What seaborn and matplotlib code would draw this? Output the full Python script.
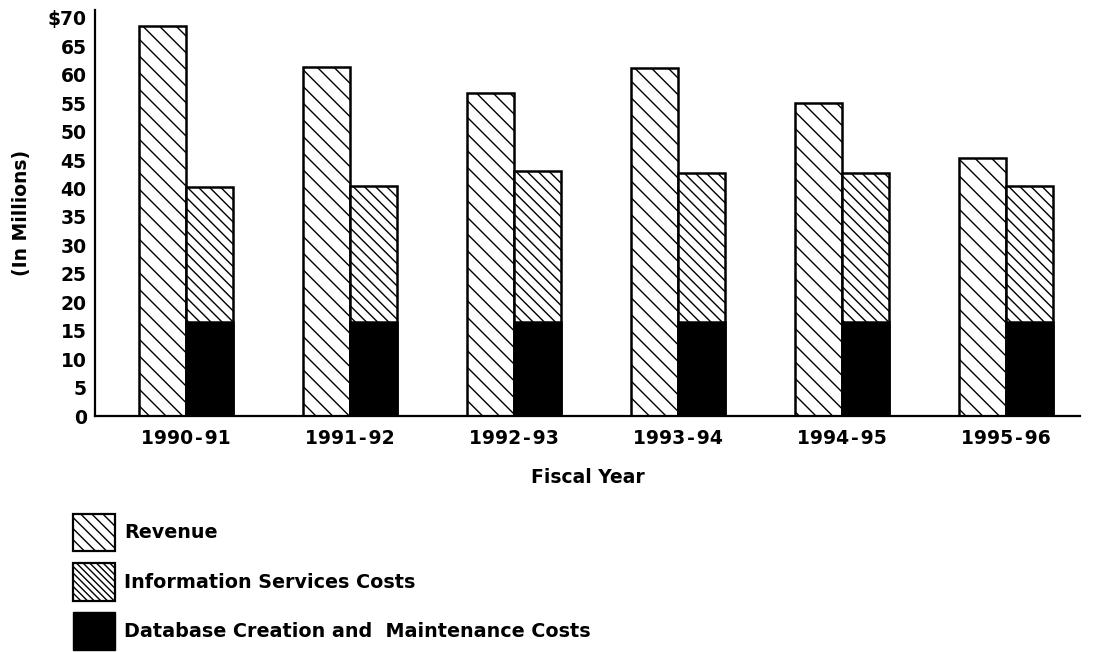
import pandas as pd
import seaborn as sns
import matplotlib.pyplot as plt
from matplotlib.patches import Patch

# Data (in millions of dollars)
years = ["1990\u200a-\u200a91", "1991\u200a-\u200a92", "1992\u200a-\u200a93",
         "1993\u200a-\u200a94", "1994\u200a-\u200a95", "1995\u200a-\u200a96"]
revenue = [68.6, 61.3, 56.8, 61.2, 55.0, 45.3]
info_costs = [40.3, 40.4, 43.1, 42.8, 42.7, 40.4]
db_costs = [16.6, 16.6, 16.6, 16.6, 16.6, 16.6]
y_ticks = [0, 5, 10, 15, 20, 25, 30, 35, 40, 45, 50, 55, 60, 65, 70]
y_tick_labels = ["0", "5", "10", "15", "20", "25", "30", "35", "40", "45",
                 "50", "55", "60", "65", "$70"]

series_names = ["Revenue", "Information Services Costs"]

sns.set_style("white")
plt.rcParams["font.family"] = ["DejaVu Sans"]
plt.rcParams["font.weight"] = "bold"
plt.rcParams["hatch.linewidth"] = 1.0
plt.rcParams["hatch.color"] = "black"
for key in ["text.color", "axes.labelcolor", "xtick.color", "ytick.color"]:
    plt.rcParams[key] = "black"

# Long table for the dodged revenue / info bars
df = pd.DataFrame({
    "year": years * 2,
    "series": [series_names[0]] * len(years) + [series_names[1]] * len(years),
    "value": revenue + info_costs,
})
# DB costs sit at the bottom of the info bars
df_db = pd.DataFrame({"year": years, "series": [series_names[1]] * len(years), "value": db_costs})

fig = plt.figure(figsize=(10.97, 6.52), dpi=100)
ax = fig.add_axes([95 / 1097, 1 - 416 / 652, (1080 - 95) / 1097, (416 - 10) / 652])

sns.barplot(data=df, x="year", y="value", hue="series", hue_order=series_names,
            order=years, width=0.57, palette=["white", "white"], dodge=True,
            edgecolor="black", linewidth=1.8, errorbar=None, legend=False, ax=ax)

hatches = ["\\\\", "\\\\\\"]
for i, bar in enumerate(ax.patches):
    bar.set_hatch(hatches[i // len(years)])

sns.barplot(data=df_db, x="year", y="value", hue="series", hue_order=series_names,
            order=years, width=0.57, palette=["black", "black"], dodge=True,
            edgecolor="black", linewidth=1.8, errorbar=None, legend=False, ax=ax)

ax.set_ylim(0, 71.4)
ax.set_xlim(-0.555, 5.45)
ax.set_yticks(y_ticks)
ax.set_yticklabels(y_tick_labels)
ax.tick_params(axis="y", length=0, labelsize=13.5, pad=6)
ax.tick_params(axis="x", length=0, labelsize=13.5, pad=9)
for lbl in ax.get_xticklabels() + ax.get_yticklabels():
    lbl.set_fontweight("bold")

ax.set_xlabel("Fiscal Year", fontsize=13.5, fontweight="bold", labelpad=15)
ax.set_ylabel("(In Millions)", fontsize=13.5, fontweight="bold", labelpad=12)

sns.despine(ax=ax)
for side in ["left", "bottom"]:
    ax.spines[side].set_linewidth(1.6)
    ax.spines[side].set_color("black")

handles = [
    Patch(facecolor="white", edgecolor="black", hatch="\\\\\\", linewidth=1.6, label="Revenue"),
    Patch(facecolor="white", edgecolor="black", hatch="\\\\\\\\\\", linewidth=1.6,
          label="Information Services Costs"),
    Patch(facecolor="black", edgecolor="black", label="Database Creation and  Maintenance Costs"),
]
fig.legend(handles=handles, loc="upper left", bbox_to_anchor=(73 / 1097, 1 - 514 / 652),
           frameon=False, borderpad=0, borderaxespad=0, handlelength=2.18,
           handleheight=2.62, labelspacing=0.62, handletextpad=0.5,
           prop={"size": 13.8, "weight": "bold"})

fig.savefig("out.png", dpi=100)
